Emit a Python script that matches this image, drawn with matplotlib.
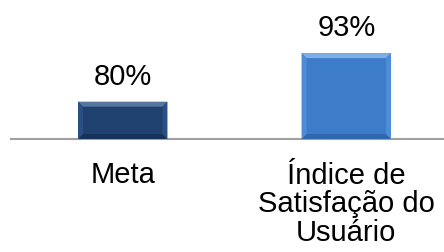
import matplotlib
matplotlib.use("Agg")
import matplotlib.pyplot as plt
from matplotlib.patches import Polygon
from matplotlib.transforms import ScaledTranslation

plt.rcParams['font.family'] = ['Liberation Sans', 'DejaVu Sans']

categories = ["Meta", "Índice de\nSatisfação do\nUsuário"]
values = [80, 93]
value_labels = ["80%", "93%"]

face_colors = ["#1f416f", "#3d7cc9"]
top_colors = ["#54769f", "#7eaee6"]
side_colors = ["#2a4f82", "#4f8cd6"]
bottom_colors = ["#17325a", "#2f67ad"]

W, H = 444, 253
fig = plt.figure(figsize=(W / 100, H / 100), dpi=100)
ax = fig.add_axes([11 / W, 113 / H, 447 / W, 112 / H])

x = range(len(categories))
bars = ax.bar(x, [v - 70 for v in values], bottom=70, width=0.40,
              color=face_colors, edgecolor="none", zorder=2)
ax.set_xlim(-0.5, 1.5)
ax.set_ylim(70, 100)

for s in ["top", "right", "left"]:
    ax.spines[s].set_visible(False)
ax.spines["bottom"].set_color("#a0a0a0")
ax.spines["bottom"].set_linewidth(1.5)
ax.set_yticks([])
ax.set_xticks(list(x))
ax.set_xticklabels(categories, fontsize=21, linespacing=1.03)
ax.tick_params(axis="x", length=0, pad=15)
# the multi-line label sits a little lower in the original
lbl = ax.get_xticklabels()[1]
lbl.set_transform(lbl.get_transform() + ScaledTranslation(0, -1 / 100, fig.dpi_scale_trans))

# bevel effect drawn in pixel space from each bar's extent
fig.canvas.draw()
bev = 5
for i, b in enumerate(bars):
    (x0, y0), (x1, y1) = ax.transData.transform(
        [(b.get_x(), b.get_y()), (b.get_x() + b.get_width(), b.get_y() + b.get_height())])
    ix0, ix1, iy0, iy1 = x0 + bev, x1 - bev, y0 + bev, y1 - bev
    polys = [
        ([(x0, y1), (x1, y1), (ix1, iy1), (ix0, iy1)], top_colors[i]),
        ([(x0, y0), (x1, y0), (ix1, iy0), (ix0, iy0)], bottom_colors[i]),
        ([(x0, y0), (x0, y1), (ix0, iy1), (ix0, iy0)], side_colors[i]),
        ([(x1, y0), (x1, y1), (ix1, iy1), (ix1, iy0)], side_colors[i]),
    ]
    for pts, c in polys:
        ax.add_patch(Polygon(pts, closed=True, facecolor=c, edgecolor="none",
                             transform=None, zorder=3))
    ax.annotate(value_labels[i], (b.get_x() + b.get_width() / 2, b.get_y() + b.get_height()),
                xytext=(0, 8.5), textcoords="offset points", ha="center", va="bottom",
                fontsize=21, color="#000000")

fig.savefig("out.png", dpi=100)
